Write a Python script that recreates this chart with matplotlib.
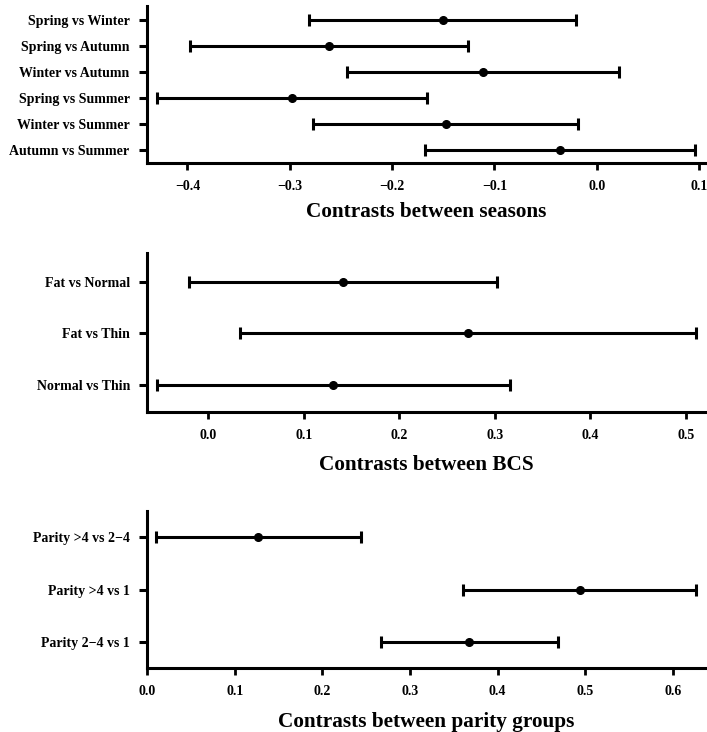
import matplotlib
matplotlib.use("Agg")
from matplotlib import pyplot as plt

# Contrasts between seasons
season_labels = ["Spring vs Winter", "Spring vs Autumn", "Winter vs Autumn",
                 "Spring vs Summer", "Winter vs Summer", "Autumn vs Summer"]
season_est = [-0.150, -0.262, -0.111, -0.298, -0.147, -0.036]
season_lo = [-0.281, -0.397, -0.244, -0.430, -0.277, -0.168]
season_hi = [-0.020, -0.126, 0.022, -0.166, -0.018, 0.096]
season_ticks = [-0.4, -0.3, -0.2, -0.1, 0.0, 0.1]

# Contrasts between BCS
bcs_labels = ["Fat vs Normal", "Fat vs Thin", "Normal vs Thin"]
bcs_est = [0.141, 0.272, 0.131]
bcs_lo = [-0.020, 0.033, -0.054]
bcs_hi = [0.302, 0.510, 0.316]
bcs_ticks = [0.0, 0.1, 0.2, 0.3, 0.4, 0.5]

# Contrasts between parity groups
parity_labels = ["Parity >4 vs 2\u22124", "Parity >4 vs 1", "Parity 2\u22124 vs 1"]
parity_est = [0.126, 0.494, 0.367]
parity_lo = [0.010, 0.361, 0.267]
parity_hi = [0.244, 0.627, 0.469]
parity_ticks = [0.0, 0.1, 0.2, 0.3, 0.4, 0.5, 0.6]

plt.rcParams['font.family'] = ['Liberation Serif', 'DejaVu Serif']
plt.rcParams['font.weight'] = 'bold'

fig = plt.figure(figsize=(7.07, 7.32), dpi=100)


def panel(rect, labels, est, lo, hi, ticks, xlim, ylim, title, labelpad):
    ax = fig.add_axes(rect)
    ypos = list(range(len(labels)))
    xerr = [[e - l for e, l in zip(est, lo)], [h - e for e, h in zip(est, hi)]]
    ax.errorbar(est, ypos, xerr=xerr, fmt='o', color='black', ms=5.5,
                elinewidth=2.2, capsize=4, capthick=2.2)
    ax.set_yticks(ypos)
    ax.set_yticklabels(labels, fontsize=10, fontweight='bold')
    ax.set_ylim(*ylim)
    ax.set_xticks(ticks)
    ax.set_xticklabels([f"{t:.1f}".replace("-", "\u2212") for t in ticks],
                       fontsize=10, fontweight='bold')
    ax.set_xlim(*xlim)
    for s in ['top', 'right']:
        ax.spines[s].set_visible(False)
    for s in ['left', 'bottom']:
        ax.spines[s].set_linewidth(2.2)
    ax.tick_params(axis='y', length=5.5, width=2.2, pad=7)
    ax.tick_params(axis='x', length=5, width=2, pad=7.5)
    ax.set_xlabel(title, fontsize=15.3, fontweight='bold', labelpad=labelpad)
    return ax


panel([0.2079, 0.7777, 0.789, 0.2141], season_labels, season_est, season_lo,
      season_hi, season_ticks, (-0.4395, 0.1056), (5.49, -0.54),
      "Contrasts between seasons", 6.5)
panel([0.2083, 0.4376, 0.789, 0.2168], bcs_labels, bcs_est, bcs_lo,
      bcs_hi, bcs_ticks, (-0.0639, 0.520), (2.517, -0.556),
      "Contrasts between BCS", 9)
panel([0.2083, 0.0878, 0.789, 0.2141], parity_labels, parity_est, parity_lo,
      parity_hi, parity_ticks, (0.0, 0.637), (2.498, -0.504),
      "Contrasts between parity groups", 10)

fig.savefig("out.png", dpi=100)
